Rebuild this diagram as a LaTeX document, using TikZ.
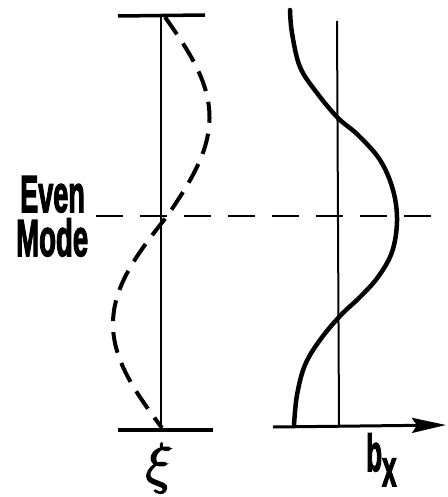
\documentclass[tikz,border=0pt]{standalone}
\usepackage{fontspec}
\newfontfamily\labfont{Liberation Sans}[BoldFeatures={FakeBold=3}]
\usetikzlibrary{arrows.meta}
\newcommand\strokeglyph[2]{\special{pdf:literal q 2 Tr #1 w}#2\special{pdf:literal Q}}
\tikzset{
  lab/.style={font=\labfont\bfseries\fontsize{52}{44}\selectfont, inner sep=0pt},
  thinline/.style={line width=2pt},
  barline/.style={line width=3.5pt},
  dashcurve/.style={line width=4pt, dash pattern=on 21pt off 11pt},
  solidcurve/.style={line width=4.5pt, line cap=round, line join=round},
  midline/.style={line width=2.5pt, dash pattern=on 27pt off 17pt},
}
\begin{document}
\begin{tikzpicture}[x=1pt,y=-1pt]
\useasboundingbox (0,0) rectangle (447,497);
% left frame
\coordinate (lt1) at (118,16);
\coordinate (lt2) at (205,15);
\coordinate (lb1) at (118,430);
\coordinate (lb2) at (213,430);
\coordinate (lvt) at (161,15);
\coordinate (lvb) at (161,430);
\draw[barline] (lt1) -- (lt2);
\draw[barline] (lb1) -- (lb2);
\draw[thinline] (lvt) -- (lvb);
% dashed mode shape
\draw[dashcurve] plot[domain=0:1, samples=50] ({165+3*\x+43*sin(180*\x)}, {17+198*\x})
  -- plot[domain=0:1, samples=50] ({168-6*\x-52*sin(180*\x)}, {215+213*\x});
% right frame
\coordinate (rvt) at (337,21);
\coordinate (rvb) at (339,426);
\coordinate (ax1) at (273,427);
\coordinate (ax2) at (446,425);
\draw[thinline] (rvt) -- (rvb);
\draw[line width=3pt, -{Stealth[length=34pt,width=15pt,inset=5pt]}] (ax1) -- (ax2);
% solid b_x curve
\draw[solidcurve] plot[smooth, tension=0.6] coordinates {(290,10) (292,33) (300,67) (317,93) (338,118) (358,135) (380,160) (393,190) (397,221) (392,252) (378,277) (360,297) (340,316) (320,340) (305,365) (297,395) (294,425)};
% even mode dashed line
\coordinate (m1) at (96,216);
\coordinate (m2) at (447,216);
\draw[midline] (m1) -- (m2);
% labels
\node[lab, align=left, anchor=north west] (evenmode) at (16,176)
  {\hspace*{4pt}\scalebox{0.52}[1]{Even}\\\scalebox{0.53}[1]{Mode}};
\node[inner sep=0pt, font=\Huge] (xilab) at (159,468) {\scalebox{2.25}{\strokeglyph{0.7}{$\xi$}}};
\node[lab, anchor=base west, text height=38pt, text depth=15pt] (bx) at (366,471) {\scalebox{0.5}[1]{b\raisebox{-15pt}{x}}};
\end{tikzpicture}
\end{document}
